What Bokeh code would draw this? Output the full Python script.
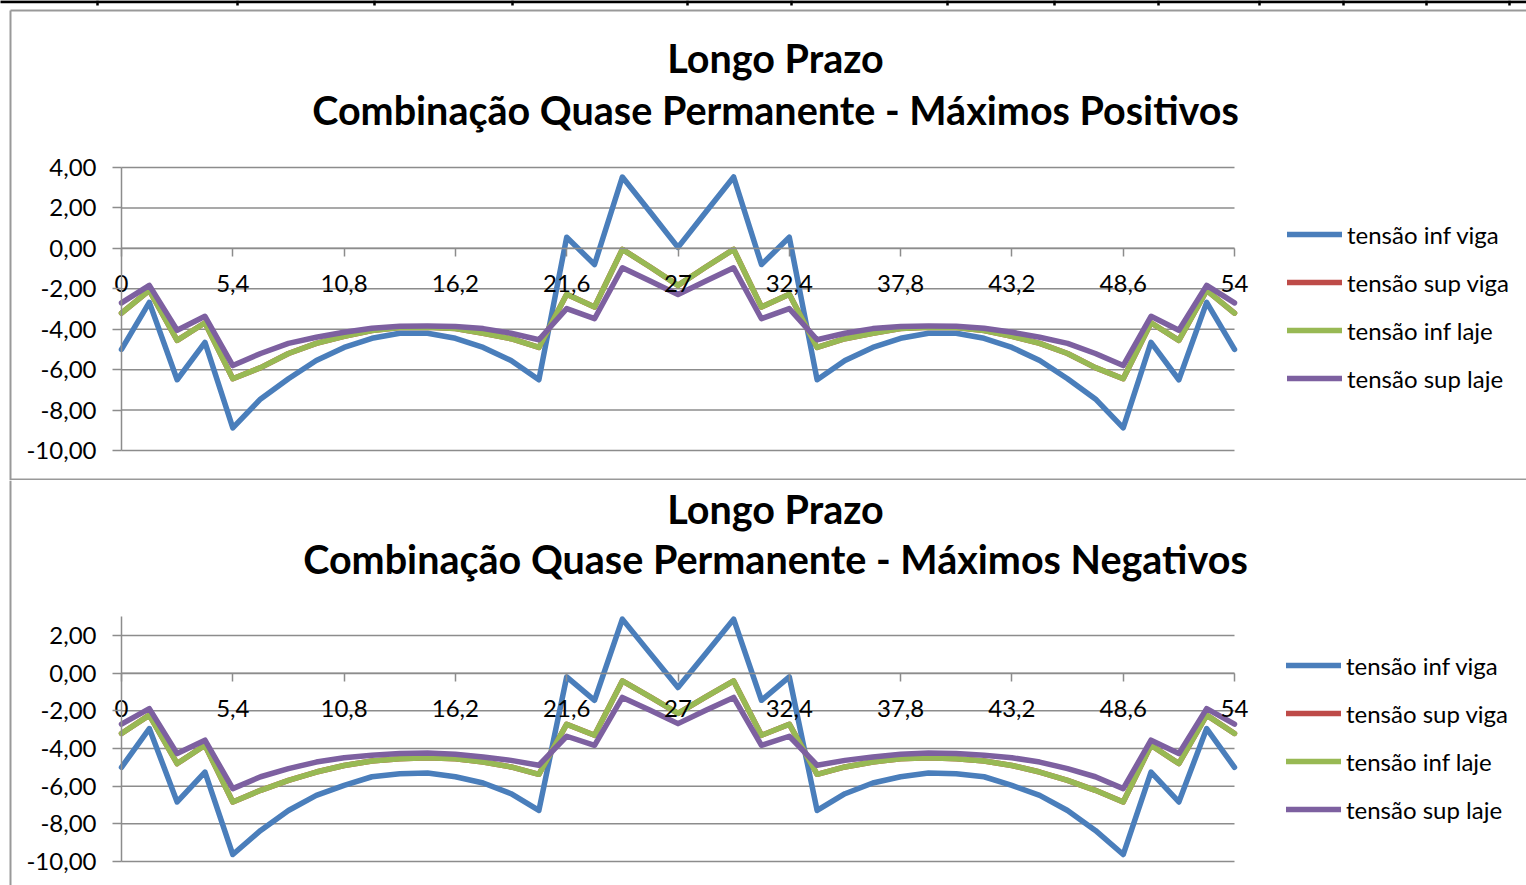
import json
from bokeh.plotting import figure
from bokeh.models import Range1d, FixedTicker, CustomJSTickFormatter, Label, Legend, LegendItem
from bokeh.layouts import column
from bokeh.embed import file_html
from bokeh.resources import INLINE

# ---------------- data ----------------
positions = [0, 1.35, 2.7, 4.05, 5.4, 6.75, 8.1, 9.45, 10.8, 12.15, 13.5, 14.85, 16.2, 17.55,
             18.9, 20.25, 21.6, 22.95, 24.3, 25.65, 27, 28.35, 29.7, 31.05, 32.4, 33.75, 35.1,
             36.45, 37.8, 39.15, 40.5, 41.85, 43.2, 44.55, 45.9, 47.25, 48.6, 49.95, 51.3, 52.65, 54]

x_ticks = [0, 5.4, 10.8, 16.2, 21.6, 27, 32.4, 37.8, 43.2, 48.6, 54]
x_tick_labels = ["0", "5,4", "10,8", "16,2", "21,6", "27", "32,4", "37,8", "43,2", "48,6", "54"]

y_ticks_pos = [-10, -8, -6, -4, -2, 0, 2, 4]
y_ticks_neg = [-10, -8, -6, -4, -2, 0, 2]

series_names = ["tensão inf viga", "tensão sup viga", "tensão inf laje", "tensão sup laje"]
series_colors = ["#4A7EBB", "#BE4B48", "#98B954", "#7D60A0"]

title_line1 = "Longo Prazo"
title_pos = "Combinação Quase Permanente - Máximos Positivos"
title_neg = "Combinação Quase Permanente - Máximos Negativos"

# Máximos Positivos
pos_inf_viga = [-5.0, -2.67, -6.5, -4.65, -8.88, -7.45, -6.45, -5.55, -4.9, -4.45, -4.2, -4.2, -4.45,
                -4.9, -5.55, -6.5, 0.55, -0.8, 3.53, 1.8, 0.05, 1.8, 3.53, -0.8, 0.55, -6.5, -5.55,
                -4.9, -4.45, -4.2, -4.2, -4.45, -4.9, -5.55, -6.45, -7.45, -8.88, -4.65, -6.5, -2.67, -5.0]
pos_sup_viga = [-3.2, -2.08, -4.55, -3.68, -6.45, -5.9, -5.2, -4.7, -4.35, -4.07, -3.92, -3.9, -3.97,
                -4.2, -4.47, -4.9, -2.27, -2.9, -0.05, -0.92, -1.83, -0.92, -0.05, -2.9, -2.27, -4.9,
                -4.47, -4.2, -3.97, -3.9, -3.92, -4.07, -4.35, -4.7, -5.2, -5.9, -6.45, -3.68, -4.55, -2.08, -3.2]
pos_inf_laje = [-3.2, -2.08, -4.55, -3.68, -6.45, -5.9, -5.2, -4.7, -4.35, -4.07, -3.92, -3.9, -3.97,
                -4.2, -4.47, -4.9, -2.27, -2.9, -0.05, -0.92, -1.83, -0.92, -0.05, -2.9, -2.27, -4.9,
                -4.47, -4.2, -3.97, -3.9, -3.92, -4.07, -4.35, -4.7, -5.2, -5.9, -6.45, -3.68, -4.55, -2.08, -3.2]
pos_sup_laje = [-2.7, -1.83, -4.05, -3.36, -5.8, -5.2, -4.7, -4.4, -4.15, -3.95, -3.85, -3.84, -3.86,
                -3.97, -4.2, -4.52, -2.98, -3.48, -0.96, -1.62, -2.28, -1.62, -0.96, -3.48, -2.98, -4.52,
                -4.2, -3.97, -3.86, -3.84, -3.85, -3.95, -4.15, -4.4, -4.7, -5.2, -5.8, -3.36, -4.05, -1.83, -2.7]

# Máximos Negativos
neg_inf_viga = [-5.0, -2.94, -6.84, -5.25, -9.63, -8.35, -7.29, -6.49, -5.96, -5.5, -5.34, -5.3, -5.5,
                -5.83, -6.4, -7.29, -0.2, -1.44, 2.87, 1.05, -0.76, 1.05, 2.87, -1.44, -0.2, -7.29, -6.4,
                -5.83, -5.5, -5.3, -5.34, -5.5, -5.96, -6.49, -7.29, -8.35, -9.63, -5.25, -6.84, -2.94, -5.0]
neg_sup_viga = [-3.2, -2.23, -4.8, -3.83, -6.84, -6.22, -5.69, -5.25, -4.9, -4.66, -4.54, -4.49, -4.54,
                -4.72, -4.98, -5.37, -2.71, -3.3, -0.41, -1.26, -2.14, -1.26, -0.41, -3.3, -2.71, -5.37,
                -4.98, -4.72, -4.54, -4.49, -4.54, -4.66, -4.9, -5.25, -5.69, -6.22, -6.84, -3.83, -4.8, -2.23, -3.2]
neg_inf_laje = [-3.2, -2.23, -4.8, -3.83, -6.84, -6.22, -5.69, -5.25, -4.9, -4.66, -4.54, -4.49, -4.54,
                -4.72, -4.98, -5.37, -2.71, -3.3, -0.41, -1.26, -2.14, -1.26, -0.41, -3.3, -2.71, -5.37,
                -4.98, -4.72, -4.54, -4.49, -4.54, -4.66, -4.9, -5.25, -5.69, -6.22, -6.84, -3.83, -4.8, -2.23, -3.2]
neg_sup_laje = [-2.71, -1.88, -4.27, -3.56, -6.13, -5.5, -5.07, -4.72, -4.49, -4.36, -4.27, -4.24, -4.31,
                -4.45, -4.63, -4.89, -3.35, -3.83, -1.29, -1.97, -2.68, -1.97, -1.29, -3.83, -3.35, -4.89,
                -4.63, -4.45, -4.31, -4.24, -4.27, -4.36, -4.49, -4.72, -5.07, -5.5, -6.13, -3.56, -4.27, -1.88, -2.71]

# ---------------- layout / styling ----------------
FONT = "Lato"
GRID = "#8c8c8c"
BOX = "#999999"
W = 1526
X0_PX, X1_PX = 121, 1234          # pixel columns of x = 0 and x = 54
X_MIN, X_MAX = 0, 54
SHEET_TICKS_PX = [97, 237, 374, 512, 687, 791, 947, 1054, 1158, 1259, 1343, 1426, 1509]

x_formatter_code = ("const t = %s; const l = %s; const i = t.indexOf(tick);"
                    " return i >= 0 ? l[i] : '';") % (json.dumps(x_ticks), json.dumps(x_tick_labels))


def make_chart(series, y_ticks, y_top, H, ya, yb, subtitle, title_ys, legend_xy, box_top, sheet_strip):
    sx = (X1_PX - X0_PX) / (X_MAX - X_MIN)
    sy = (yb[1] - ya[1]) / (ya[0] - yb[0])

    def fx(px):
        return X_MIN + (px - X0_PX) / sx

    def fy(py):
        return ya[0] - (py - ya[1]) / sy

    p = figure(width=W, height=H, output_backend="svg", toolbar_location=None,
               title_location=None,
               x_range=Range1d(fx(0), fx(W)), y_range=Range1d(fy(H), fy(0)),
               min_border=0, min_border_left=0, min_border_right=0,
               min_border_top=0, min_border_bottom=0)
    p.outline_line_color = None
    p.background_fill_color = "white"
    p.border_fill_color = "white"
    p.xgrid.visible = False
    p.ygrid.visible = False

    # chart box border (left / top / bottom)
    xs0, xs1, ys0, ys1 = [fx(10)], [fx(10)], [fy(box_top)], [fy(H)]
    if box_top > 0:
        xs0 += [fx(10), fx(10)]
        xs1 += [fx(W + 5), fx(W + 5)]
        ys0 += [fy(box_top), fy(H - 1)]
        ys1 += [fy(box_top), fy(H - 1)]
    p.segment(x0=xs0, y0=ys0, x1=xs1, y1=ys1, line_color=BOX, line_width=2)

    if sheet_strip:
        p.segment(x0=[fx(-5)], y0=[fy(1.2)], x1=[fx(W + 5)], y1=[fy(1.2)],
                  line_color="black", line_width=3)
        p.segment(x0=[fx(v) for v in SHEET_TICKS_PX], y0=[fy(0)] * len(SHEET_TICKS_PX),
                  x1=[fx(v) for v in SHEET_TICKS_PX], y1=[fy(5)] * len(SHEET_TICKS_PX),
                  line_color="black", line_width=2.5)

    # horizontal gridlines limited to the plot area
    p.segment(x0=[X_MIN] * len(y_ticks), x1=[X_MAX] * len(y_ticks), y0=y_ticks, y1=y_ticks,
              line_color=GRID, line_width=1.5)

    yax = p.yaxis[0]
    yax.fixed_location = X_MIN
    yax.ticker = FixedTicker(ticks=y_ticks)
    yax.formatter = CustomJSTickFormatter(code="return tick.toFixed(2).replace('.', ',');")
    yax.bounds = (-10, y_top)
    yax.axis_line_color = GRID
    yax.axis_line_width = 1.5
    yax.major_tick_line_color = GRID
    yax.major_tick_line_width = 1.5
    yax.major_tick_out = 9
    yax.major_tick_in = 0
    yax.minor_tick_line_color = None
    yax.major_label_text_font = FONT
    yax.major_label_text_font_size = "24px"
    yax.major_label_text_color = "#000000"
    yax.major_label_standoff = 16

    xax = p.xaxis[0]
    xax.fixed_location = 0
    xax.ticker = FixedTicker(ticks=x_ticks)
    xax.formatter = CustomJSTickFormatter(code=x_formatter_code)
    xax.bounds = (X_MIN, X_MAX)
    xax.axis_line_color = GRID
    xax.axis_line_width = 1.5
    xax.major_tick_line_color = GRID
    xax.major_tick_line_width = 1.5
    xax.major_tick_out = 8
    xax.major_tick_in = 0
    xax.minor_tick_line_color = None
    xax.major_label_text_font = FONT
    xax.major_label_text_font_size = "24px"
    xax.major_label_text_color = "#000000"
    xax.major_label_standoff = 19

    items = []
    for name, color, ys in zip(series_names, series_colors, series):
        r = p.line(positions, ys, line_color=color, line_width=5.5,
                   line_join="round", line_cap="round")
        items.append(LegendItem(label=name, renderers=[r]))

    legend = Legend(items=items, location=(legend_xy[0], H - legend_xy[1]), orientation="vertical",
                    border_line_color=None, background_fill_alpha=0, padding=0, margin=0,
                    spacing=18, glyph_width=55, glyph_height=30, label_height=30,
                    label_standoff=5, label_text_font=FONT, label_text_font_size="24px",
                    label_text_color="#000000", label_text_baseline="middle")
    p.add_layout(legend)

    for txt, ty in zip((title_line1, subtitle), title_ys):
        p.add_layout(Label(x=775, y=H - ty, x_units="screen", y_units="screen",
                           text=txt, text_align="center", text_baseline="middle",
                           text_font=FONT, text_font_style="bold", text_font_size="39.5px",
                           text_color="#000000"))
    return p


p1 = make_chart([pos_inf_viga, pos_sup_viga, pos_inf_laje, pos_sup_laje], y_ticks_pos, 4,
                480, (4, 167), (-10, 450), title_pos, (57, 109), (1287, 393), 10, True)
p2 = make_chart([neg_inf_viga, neg_sup_viga, neg_inf_laje, neg_sup_laje], y_ticks_neg, 3,
                405, (2, 155), (-10, 381), title_neg, (28, 78), (1286, 344), 0, False)

layout = column(p1, p2)
open("out.html", "w").write(file_html(layout, INLINE))
